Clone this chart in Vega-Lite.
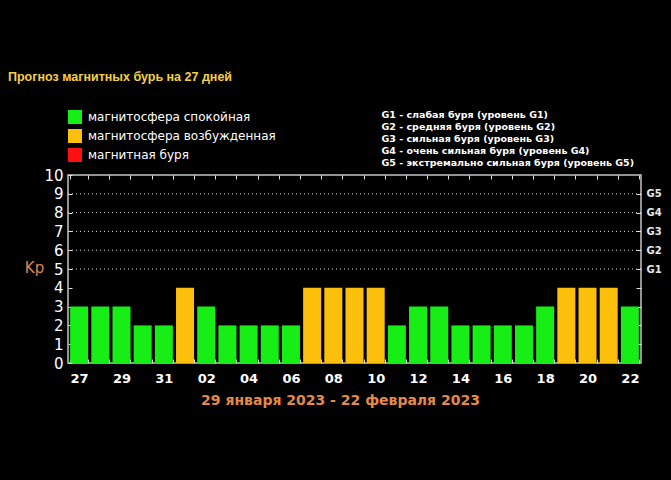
{
  "$schema": "https://vega.github.io/schema/vega-lite/v6.json",
  "width": 573,
  "height": 188,
  "autosize": {"type": "none"},
  "padding": {"left": 68, "top": 175, "right": 30, "bottom": 117},
  "background": "black",
  "title": {
    "text": "Прогноз магнитных бурь на 27 дней",
    "anchor": "start",
    "frame": "group",
    "color": "#f5d142",
    "font": "Liberation Sans",
    "fontSize": 12.5,
    "fontWeight": "bold",
    "dx": -60,
    "offset": 27
  },
  "config": {
    "view": {"stroke": "#c4c4c4", "strokeWidth": 1.5},
    "axis": {"domain": false, "grid": false}
  },
  "datasets": {
    "kp": [
      {"day": "27", "kp": 3, "state": "магнитосфера спокойная"},
      {"day": "28", "kp": 3, "state": "магнитосфера спокойная"},
      {"day": "29", "kp": 3, "state": "магнитосфера спокойная"},
      {"day": "30", "kp": 2, "state": "магнитосфера спокойная"},
      {"day": "31", "kp": 2, "state": "магнитосфера спокойная"},
      {"day": "01", "kp": 4, "state": "магнитосфера возбужденная"},
      {"day": "02", "kp": 3, "state": "магнитосфера спокойная"},
      {"day": "03", "kp": 2, "state": "магнитосфера спокойная"},
      {"day": "04", "kp": 2, "state": "магнитосфера спокойная"},
      {"day": "05", "kp": 2, "state": "магнитосфера спокойная"},
      {"day": "06", "kp": 2, "state": "магнитосфера спокойная"},
      {"day": "07", "kp": 4, "state": "магнитосфера возбужденная"},
      {"day": "08", "kp": 4, "state": "магнитосфера возбужденная"},
      {"day": "09", "kp": 4, "state": "магнитосфера возбужденная"},
      {"day": "10", "kp": 4, "state": "магнитосфера возбужденная"},
      {"day": "11", "kp": 2, "state": "магнитосфера спокойная"},
      {"day": "12", "kp": 3, "state": "магнитосфера спокойная"},
      {"day": "13", "kp": 3, "state": "магнитосфера спокойная"},
      {"day": "14", "kp": 2, "state": "магнитосфера спокойная"},
      {"day": "15", "kp": 2, "state": "магнитосфера спокойная"},
      {"day": "16", "kp": 2, "state": "магнитосфера спокойная"},
      {"day": "17", "kp": 2, "state": "магнитосфера спокойная"},
      {"day": "18", "kp": 3, "state": "магнитосфера спокойная"},
      {"day": "19", "kp": 4, "state": "магнитосфера возбужденная"},
      {"day": "20", "kp": 4, "state": "магнитосфера возбужденная"},
      {"day": "21", "kp": 4, "state": "магнитосфера возбужденная"},
      {"day": "22", "kp": 3, "state": "магнитосфера спокойная"}
    ],
    "glevels": [
      {"kp": 5, "g": "G1 - слабая буря (уровень G1)"},
      {"kp": 6, "g": "G2 - средняя буря (уровень G2)"},
      {"kp": 7, "g": "G3 - сильная буря (уровень G3)"},
      {"kp": 8, "g": "G4 - очень сильная буря (уровень G4)"},
      {"kp": 9, "g": "G5 - экстремально сильная буря (уровень G5)"}
    ]
  },
  "resolve": {"axis": {"x": "independent", "y": "independent"}},
  "layer": [
    {
      "data": {"name": "kp"},
      "mark": {"type": "bar"},
      "encoding": {
        "x": {
          "field": "day",
          "type": "ordinal",
          "sort": null,
          "scale": {"paddingInner": 0.15, "paddingOuter": 0.1},
          "axis": {
            "orient": "bottom",
            "labelAngle": 0,
            "labelExpr": "indexof(['27','29','31','02','04','06','08','10','12','14','16','18','20','22'], datum.value) >= 0 ? datum.label : ''",
            "labelColor": "white",
            "labelFont": "DejaVu Sans",
            "labelFontWeight": "bold",
            "labelFontSize": 13,
            "labelPadding": 13,
            "tickBand": "extent",
            "tickSize": -4,
            "tickColor": "#e0e0e0",
            "title": "29 января 2023 - 22 февраля 2023",
            "titleColor": "#e58a48",
            "titleFont": "DejaVu Sans",
            "titleFontSize": 14,
            "titleFontWeight": "bold",
            "titleX": 272,
            "titlePadding": 8
          }
        },
        "y": {
          "field": "kp",
          "type": "quantitative",
          "scale": {"domain": [0, 10], "nice": false},
          "axis": {
            "orient": "left",
            "values": [0, 1, 2, 3, 4, 5, 6, 7, 8, 9, 10],
            "labelColor": "white",
            "labelFont": "DejaVu Sans",
            "labelFontSize": 15,
            "labelPadding": 9,
            "tickSize": -4,
            "tickColor": "#e0e0e0",
            "title": "Kp",
            "titleAngle": 0,
            "titleColor": "#e08650",
            "titleFont": "DejaVu Sans",
            "titleFontSize": 15,
            "titleFontWeight": "normal",
            "titleAlign": "center",
            "titleBaseline": "middle",
            "titleX": -34,
            "titleY": 92
          }
        },
        "color": {
          "field": "state",
          "type": "nominal",
          "scale": {
            "domain": ["магнитосфера спокойная", "магнитосфера возбужденная", "магнитная буря"],
            "range": ["#16ee16", "#fcbf0c", "#ff1010"]
          },
          "legend": {
            "orient": "none",
            "legendX": 0,
            "legendY": -65,
            "title": null,
            "padding": 0,
            "symbolType": "square",
            "symbolSize": 196,
            "symbolStrokeWidth": 0,
            "labelColor": "white",
            "labelFont": "DejaVu Sans",
            "labelFontSize": 12,
            "labelOffset": 6,
            "labelLimit": 400,
            "rowPadding": 5
          }
        }
      }
    },
    {
      "data": {"name": "kp"},
      "mark": {"type": "bar", "opacity": 0},
      "encoding": {
        "x": {
          "field": "day",
          "type": "ordinal",
          "sort": null,
          "axis": {
            "orient": "top",
            "labels": false,
            "tickBand": "extent",
            "tickSize": -4,
            "tickColor": "#e0e0e0",
            "title": null
          }
        },
        "y": {"field": "kp", "type": "quantitative", "axis": null}
      }
    },
    {
      "data": {"name": "glevels"},
      "mark": {"type": "rule", "color": "#d8d8d8", "strokeWidth": 1},
      "encoding": {
        "y": {
          "field": "kp",
          "type": "quantitative",
          "axis": {
            "orient": "right",
            "values": [1, 2, 3, 4, 5, 6, 7, 8, 9],
            "labelExpr": "datum.value >= 5 ? 'G' + (datum.value - 4) : ''",
            "labelColor": "#e8e8e8",
            "labelFont": "DejaVu Sans",
            "labelFontWeight": "bold",
            "labelFontSize": 10,
            "labelPadding": 10,
            "tickSize": -5,
            "tickColor": "#e0e0e0",
            "title": null
          }
        },
        "strokeDash": {
          "field": "g",
          "type": "nominal",
          "scale": {"range": [[1, 3], [1, 3], [1, 3], [1, 3], [1, 3]]},
          "legend": {
            "orient": "none",
            "legendX": 304,
            "legendY": -65,
            "title": null,
            "padding": 0,
            "symbolSize": 0,
            "symbolOpacity": 0,
            "symbolStrokeWidth": 0,
            "labelOffset": 0,
            "labelColor": "white",
            "labelFont": "DejaVu Sans",
            "labelFontWeight": "bold",
            "labelFontSize": 9.5,
            "rowPadding": 1,
            "labelLimit": 400
          }
        }
      }
    }
  ]
}
